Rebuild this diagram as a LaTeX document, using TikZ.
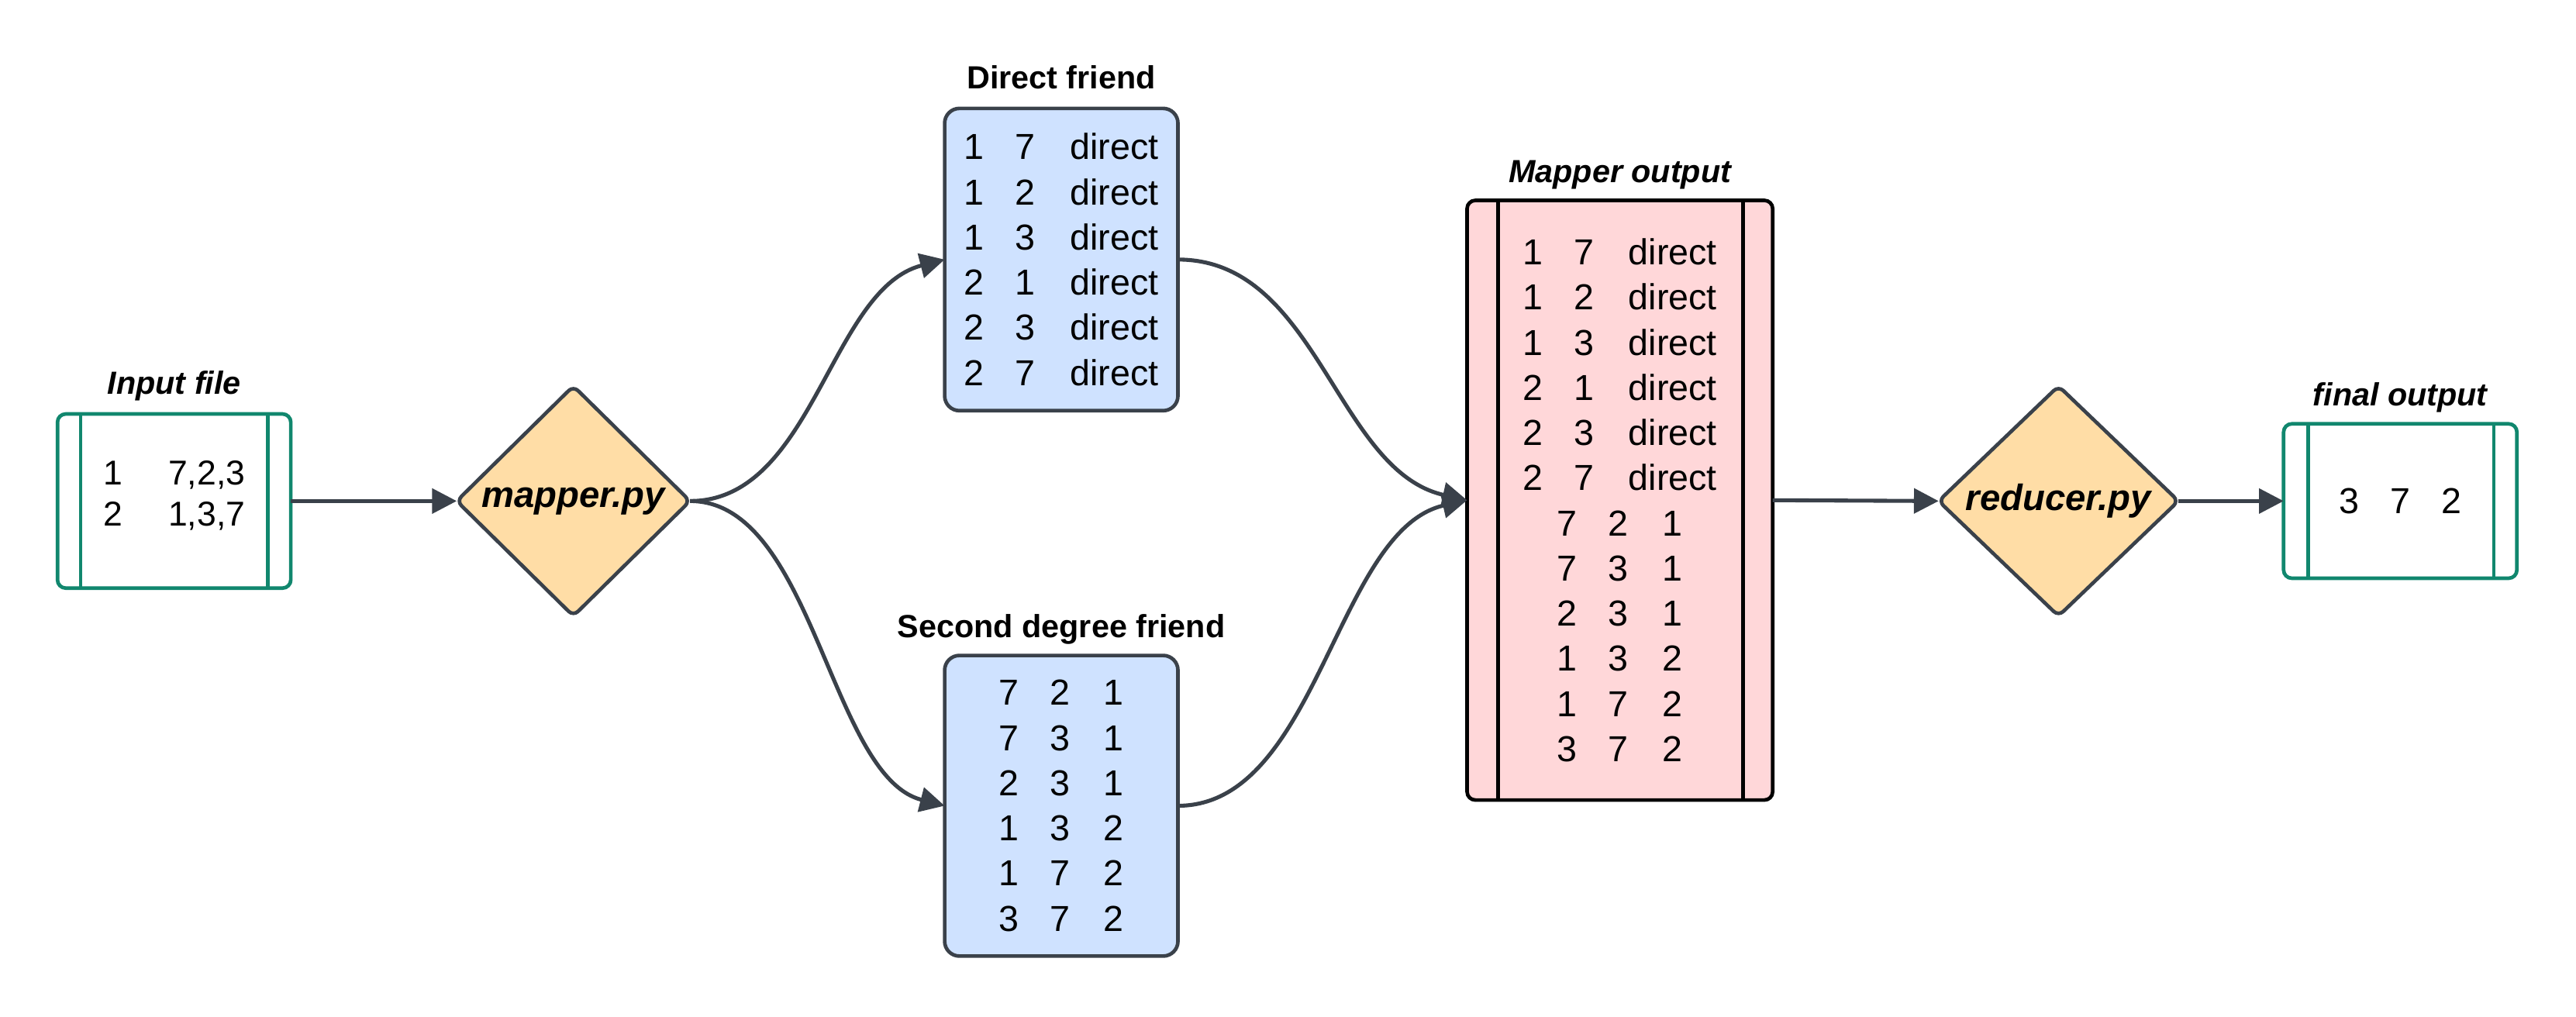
\documentclass[tikz,border=0pt]{standalone}
\usepackage{fontspec}
\setmainfont{Liberation Sans}
\usetikzlibrary{shapes.geometric,arrows.meta}
\definecolor{tealc}{HTML}{11876E}
\definecolor{edgec}{HTML}{3A414A}
\definecolor{bluef}{HTML}{CFE2FF}
\definecolor{diaf}{HTML}{FFDDA6}
\definecolor{pinkf}{HTML}{FFD7D9}
\begin{document}
\begin{tikzpicture}[x=1pt,y=1pt,
  lbl/.style={font=\fontsize{19.5}{22}\selectfont\bfseries, inner sep=0pt, anchor=base},
  rows/.style={font=\fontsize{22}{27.5}\selectfont, align=center, inner sep=0pt, outer sep=0pt},
  filebox/.style={rows, draw=tealc, line width=2.2pt, rounded corners=5pt, fill=white},
  bluebox/.style={rows, draw=edgec, line width=2.2pt, fill=bluef, rounded corners=9pt, minimum width=142pt},
  pinkbox/.style={rows, draw=black, line width=2.2pt, fill=pinkf, rounded corners=5pt},
  dia/.style={diamond, draw=edgec, line width=2.2pt, fill=diaf, rounded corners=4pt, inner sep=0pt, outer sep=0pt,
    label={[font=\fontsize{22.3}{24}\selectfont\bfseries\itshape]center:#1}},
  conn/.style={draw=edgec, line width=2.4pt, -{Triangle[length=15pt,width=15pt]}},
  tline/.style={draw=tealc, line width=2.2pt},
  kline/.style={draw=black, line width=2.2pt},
]
\useasboundingbox (0,0) rectangle (1568,619);

% input file
\node[filebox, minimum width=142pt, minimum height=106pt, font=\fontsize{21}{25}\selectfont, text depth=9pt] (in) at (106,314)
  {1\hspace{28pt}7,2,3\\2\hspace{28pt}1,3,7};
\draw[tline] ([xshift=14pt]in.north west) -- ([xshift=14pt]in.south west);
\draw[tline] ([xshift=-14pt]in.north east) -- ([xshift=-14pt]in.south east);
\node[lbl, font=\fontsize{19.5}{22}\selectfont\bfseries\itshape] (inl) at ([yshift=12pt]in.north) {Input file};

% mapper
\node[dia=mapper.py, minimum width=142pt, minimum height=140pt] (map) at (349,314) {};

% direct friend
\node[bluebox, minimum height=184pt] (df) at (646,461)
  {1\hspace{19pt}7\hspace{21pt}direct\\
   1\hspace{19pt}2\hspace{21pt}direct\\
   1\hspace{19pt}3\hspace{21pt}direct\\
   2\hspace{19pt}1\hspace{21pt}direct\\
   2\hspace{19pt}3\hspace{21pt}direct\\
   2\hspace{19pt}7\hspace{21pt}direct};
\node[lbl] (dfl) at ([yshift=12pt]df.north) {Direct friend};

% second degree friend
\node[bluebox, minimum height=183pt] (sd) at (646,128.5)
  {7\hspace{19pt}2\hspace{20pt}1\\
   7\hspace{19pt}3\hspace{20pt}1\\
   2\hspace{19pt}3\hspace{20pt}1\\
   1\hspace{19pt}3\hspace{20pt}2\\
   1\hspace{19pt}7\hspace{20pt}2\\
   3\hspace{19pt}7\hspace{20pt}2};
\node[lbl] (sdl) at ([yshift=11pt]sd.north) {Second degree friend};

% mapper output
\node[pinkbox, minimum width=186pt, minimum height=365pt] (mo) at (986,314.5)
  {1\hspace{19pt}7\hspace{21pt}direct\\
   1\hspace{19pt}2\hspace{21pt}direct\\
   1\hspace{19pt}3\hspace{21pt}direct\\
   2\hspace{19pt}1\hspace{21pt}direct\\
   2\hspace{19pt}3\hspace{21pt}direct\\
   2\hspace{19pt}7\hspace{21pt}direct\\
   7\hspace{19pt}2\hspace{21pt}1\\
   7\hspace{19pt}3\hspace{21pt}1\\
   2\hspace{19pt}3\hspace{21pt}1\\
   1\hspace{19pt}3\hspace{21pt}2\\
   1\hspace{19pt}7\hspace{21pt}2\\
   3\hspace{19pt}7\hspace{21pt}2};
\draw[kline] ([xshift=19pt]mo.north west) -- ([xshift=19pt]mo.south west);
\draw[kline] ([xshift=-18pt]mo.north east) -- ([xshift=-18pt]mo.south east);
\node[lbl, font=\fontsize{19.5}{22}\selectfont\bfseries\itshape] (mol) at ([yshift=11pt]mo.north) {Mapper output};

% reducer
\node[dia=reducer.py, minimum width=146pt, minimum height=140pt] (red) at (1253,314) {};

% final output
\node[filebox, minimum width=142pt, minimum height=94pt] (fo) at (1461,314)
  {3\hspace{19pt}7\hspace{19pt}2};
\draw[tline] ([xshift=15pt]fo.north west) -- ([xshift=15pt]fo.south west);
\draw[tline] ([xshift=-14pt]fo.north east) -- ([xshift=-14pt]fo.south east);
\node[lbl, font=\fontsize{19.5}{22}\selectfont\bfseries\itshape] (fol) at ([yshift=11pt]fo.north) {final output};

% connectors
\draw[conn] (in.east) -- (map.west);
\draw[conn] (map.east) .. controls +(75,0) and +(-70,-18) .. (df.west);
\draw[conn] (map.east) .. controls +(75,0) and +(-70,18) .. (sd.west);
\draw[conn] (df.east) .. controls +(85,0) and +(-80,18) .. (mo.west);
\draw[conn] (sd.east) .. controls +(85,0) and +(-80,-18) .. (mo.west);
\draw[conn] (mo.east) -- (red.west);
\draw[conn] (red.east) -- (fo.west);
\end{tikzpicture}
\end{document}
